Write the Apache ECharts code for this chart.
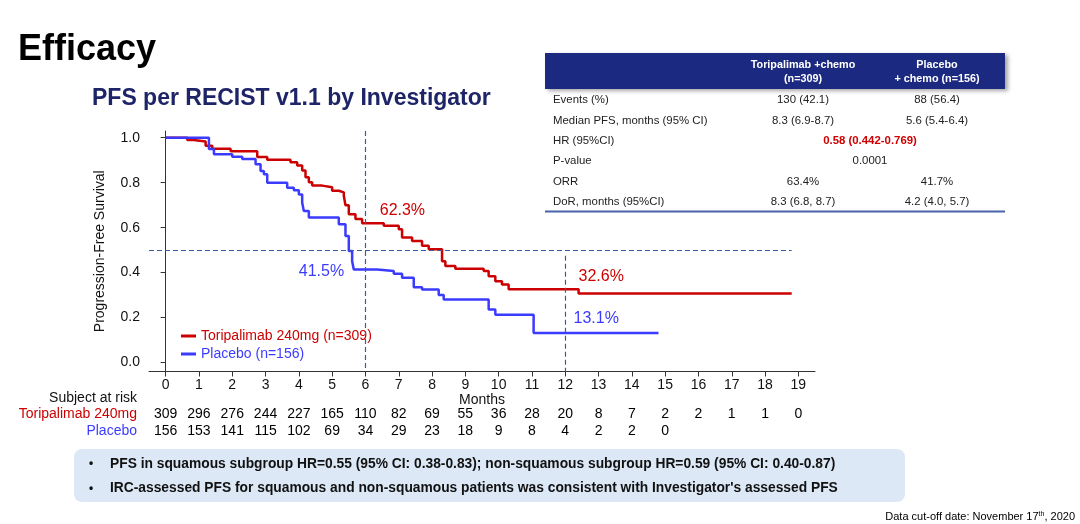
<!DOCTYPE html>
<html><head><meta charset="utf-8">
<script src="https://cdn.jsdelivr.net/npm/echarts@6/dist/echarts.min.js"></script>
<style>html,body{margin:0;padding:0;background:#fff}#c{width:1080px;height:524px}</style>
</head><body><div id="c"></div>
<script>
// ---- data ----
const toriCurve = [[0,1],[0.65,0.99],[0.85,0.983],[1.2,0.964],[1.4,0.951],[1.95,0.94],[2.75,0.914],[3.05,0.902],[3.75,0.891],[3.95,0.876],[4.1,0.854],[4.2,0.824],[4.3,0.802],[4.4,0.787],[4.7,0.78],[5.0,0.764],[5.2,0.757],[5.35,0.742],[5.4,0.70],[5.5,0.66],[5.7,0.638],[5.9,0.62],[6.55,0.608],[7.0,0.593],[7.1,0.556],[7.4,0.541],[7.7,0.519],[7.9,0.504],[8.3,0.451],[8.4,0.429],[8.7,0.417],[9.55,0.407],[9.7,0.384],[9.9,0.362],[10.1,0.347],[10.3,0.326],[12.4,0.307],[18.8,0.307]];
const placeboCurve = [[0,1],[1.3,0.95],[1.45,0.927],[2.0,0.915],[2.3,0.905],[2.7,0.882],[2.85,0.852],[2.95,0.838],[3.05,0.80],[3.65,0.778],[3.85,0.766],[4.0,0.748],[4.1,0.711],[4.15,0.674],[4.3,0.645],[5.2,0.615],[5.4,0.563],[5.5,0.496],[5.6,0.451],[5.65,0.414],[6.35,0.407],[6.85,0.395],[7.1,0.377],[7.45,0.335],[7.7,0.325],[8.2,0.30],[8.35,0.28],[9.7,0.236],[9.9,0.213],[11.05,0.131],[14.8,0.131]];
const monthTicks = [0,1,2,3,4,5,6,7,8,9,10,11,12,13,14,15,16,17,18,19];
const survTicks = [0,0.2,0.4,0.6,0.8,1.0];
const toriAtRisk = [309,296,276,244,227,165,110,82,69,55,36,28,20,8,7,2,2,1,1,0];
const placeboAtRisk = [156,153,141,115,102,69,34,29,23,18,9,8,4,2,2,0];
const riskRows = ['Toripalimab 240mg','Placebo'];
const seriesNames = ['Toripalimab 240mg (n=309)','Placebo (n=156)'];
const annotTori = [{coord:[7.11,0.674], text:'62.3%'},{coord:[13.08,0.383], text:'32.6%'}];
const annotPlacebo = [{coord:[4.68,0.405], text:'41.5%'},{coord:[12.93,0.195], text:'13.1%'}];
const medianLine = 0.5;
const landmarks = [6, 12];
const tableHeader = ['Toripalimab +chemo\n(n=309)','Placebo\n+ chemo (n=156)'];
const tableRows = [
  ['Events (%)','130 (42.1)','88 (56.4)'],
  ['Median PFS, months (95% CI)','8.3 (6.9-8.7)','5.6 (5.4-6.4)'],
  ['HR (95%CI)','0.58 (0.442-0.769)',null],
  ['P-value','0.0001',null],
  ['ORR','63.4%','41.7%'],
  ['DoR, months (95%CI)','8.3 (6.8, 8.7)','4.2 (4.0, 5.7)']
];
const bullets = [
  'PFS in squamous subgroup HR=0.55 (95% CI: 0.38-0.83); non-squamous subgroup HR=0.59 (95% CI: 0.40-0.87)',
  "IRC-assessed PFS for squamous and non-squamous patients was consistent with Investigator's assessed PFS"
];

// ---- styles ----
const RED = '#CC0000', BLUE = '#3B3BFF', NAVY = '#1B2A80', TITLE_NAVY = '#1E2468', DASH = '#3A5BA0';
const FONT = '"Liberation Sans", Arial, sans-serif';

const chart = echarts.init(document.getElementById('c'), null, {renderer:'canvas'});

const g = [];
g.push({type:'text', left:18, top:32, style:{text:'Efficacy', font:'bold 36px '+FONT, fill:'#000'}});
g.push({type:'text', left:92, top:87, style:{text:'PFS per RECIST v1.1 by Investigator', font:'bold 23px '+FONT, fill:TITLE_NAVY}});
g.push({type:'rect', shape:{x:545,y:53,width:460,height:36}, style:{fill:NAVY, shadowBlur:4, shadowOffsetX:3, shadowOffsetY:2, shadowColor:'rgba(0,0,0,0.35)'}});
const colX = [553, 803, 937, 870];
tableHeader.forEach((h,i)=>{
  g.push({type:'text', x:colX[i+1], y:72, style:{text:h, font:'bold 10.8px '+FONT, fill:'#fff', align:'center', verticalAlign:'middle', lineHeight:14}});
});
tableRows.forEach((r,i)=>{
  const y = 100 + i*20.4;
  g.push({type:'text', x:colX[0], y:y, style:{text:r[0], font:'11.4px '+FONT, fill:'#222', verticalAlign:'middle'}});
  if (r[2] === null) {
    const isHR = r[0].indexOf('HR')===0;
    g.push({type:'text', x:colX[3], y:y, style:{text:r[1], font:(isHR?'bold ':'')+'11.4px '+FONT, fill:isHR?'#D00000':'#222', align:'center', verticalAlign:'middle'}});
  } else {
    g.push({type:'text', x:colX[1], y:y, style:{text:r[1], font:'11.4px '+FONT, fill:'#222', align:'center', verticalAlign:'middle'}});
    g.push({type:'text', x:colX[2], y:y, style:{text:r[2], font:'11.4px '+FONT, fill:'#222', align:'center', verticalAlign:'middle'}});
  }
});
g.push({type:'line', shape:{x1:545,y1:211.5,x2:1005,y2:211.5}, style:{stroke:'#4A62A8', lineWidth:2}});
g.push({type:'text', x:137, y:398, style:{text:'Subject at risk', font:'14px '+FONT, fill:'#111', align:'right', verticalAlign:'middle'}});
g.push({type:'rect', shape:{x:74,y:449,width:831,height:53,r:8}, style:{fill:'#DCE8F6'}});
bullets.forEach((b,i)=>{
  const y = 464 + i*24.5;
  g.push({type:'text', x:89, y:y, style:{text:'•', font:'bold 12px '+FONT, fill:'#111', verticalAlign:'middle'}});
  g.push({type:'text', x:110, y:y, style:{text:b, font:'bold 13.8px '+FONT, fill:'#111', verticalAlign:'middle'}});
});
g.push({type:'text', x:1075, y:517, style:{text:'{a|Data cut-off date: November 17}{s|th}{a|, 2020}', align:'right', verticalAlign:'middle',
  rich:{a:{fontSize:11, fontFamily:FONT, color:'#111'}, s:{fontSize:7, fontFamily:FONT, color:'#111', verticalAlign:'top', padding:[0,0,5,0]}}}});

function markPts(list, color){
  return {symbol:'circle', symbolSize:1, itemStyle:{color:'transparent'}, silent:true,
    label:{show:true, position:'inside', color:color, fontSize:16, fontFamily:FONT, formatter:p=>p.data.text},
    data:list.map(a=>({coord:a.coord, text:a.text}))};
}

const riskData = [];
toriAtRisk.forEach((n,i)=>riskData.push([monthTicks[i], 0, n]));
placeboAtRisk.forEach((n,i)=>riskData.push([monthTicks[i], 1, n]));

const option = {
  animation:false,
  textStyle:{fontFamily:FONT},
  grid:[
    {left:149, top:131, width:666, height:240.5, outerBoundsMode:'none'},
    {left:149, top:405.5, width:666, height:34, outerBoundsMode:'none'}
  ],
  legend:{
    orient:'vertical', left:176, top:324, itemWidth:15, itemHeight:3, itemGap:4, icon:'rect',
    textStyle:{fontSize:14, fontFamily:FONT},
    data:[{name:seriesNames[0], textStyle:{color:RED}, itemStyle:{color:RED}},{name:seriesNames[1], textStyle:{color:BLUE}, itemStyle:{color:BLUE}}]
  },
  xAxis:[
    {type:'value', gridIndex:0, min:-0.5, max:19.5, splitLine:{show:false},
     axisLine:{show:true, onZero:false, lineStyle:{color:'#333'}},
     axisTick:{show:true, customValues:monthTicks, length:5, lineStyle:{color:'#333'}},
     axisLabel:{customValues:monthTicks, fontSize:14, color:'#111', margin:7},
     name:'Months', nameLocation:'middle', nameGap:22, nameTextStyle:{fontSize:14, color:'#111'}},
    {type:'value', gridIndex:1, min:-0.5, max:19.5, show:false}
  ],
  yAxis:[
    {type:'value', gridIndex:0, min:-0.04, max:1.03, splitLine:{show:false},
     axisLine:{show:true, lineStyle:{color:'#333'}},
     axisTick:{show:true, customValues:survTicks, length:5, lineStyle:{color:'#333'}},
     axisLabel:{customValues:survTicks, fontSize:14, color:'#111', margin:9, formatter:v=>v.toFixed(1)},
     name:'Progression-Free Survival', nameLocation:'middle', nameGap:42, nameRotate:90, nameTextStyle:{fontSize:14, color:'#111'}},
    {type:'category', gridIndex:1, data:riskRows, inverse:true,
     axisLine:{show:false}, axisTick:{show:false},
     axisLabel:{interval:0, fontSize:14, margin:12, formatter:v=> v===riskRows[0] ? '{r|'+v+'}' : '{b|'+v+'}',
       rich:{r:{color:RED, fontSize:14, fontFamily:FONT}, b:{color:BLUE, fontSize:14, fontFamily:FONT}}}}
  ],
  series:[
    {name:seriesNames[0], type:'line', step:'end', data:toriCurve, showSymbol:false, symbol:'none', color:RED,
     lineStyle:{color:RED, width:2.5}, xAxisIndex:0, yAxisIndex:0, z:3,
     markPoint:markPts(annotTori, RED),
     markLine:{symbol:'none', silent:true, label:{show:false}, lineStyle:{type:[5,3], color:DASH, width:1.2},
       data:[
         [{coord:[-0.5,medianLine]},{coord:[18.8,medianLine]}],
         [{coord:[landmarks[0],1.03]},{coord:[landmarks[0],-0.04]}],
         [{coord:[landmarks[1],0.475]},{coord:[landmarks[1],-0.04]}]
       ]}},
    {name:seriesNames[1], type:'line', step:'end', data:placeboCurve, showSymbol:false, symbol:'none', color:BLUE,
     lineStyle:{color:BLUE, width:2.5}, xAxisIndex:0, yAxisIndex:0, z:3,
     markPoint:markPts(annotPlacebo, BLUE)},
    {type:'scatter', xAxisIndex:1, yAxisIndex:1, data:riskData, symbolSize:1, itemStyle:{color:'transparent'}, silent:true,
     label:{show:true, position:'inside', color:'#000', opacity:1, textBorderWidth:0, fontSize:14, fontFamily:FONT, formatter:p=>String(p.value[2])}}
  ],
  graphic:g
};
chart.setOption(option);
</script></body></html>
